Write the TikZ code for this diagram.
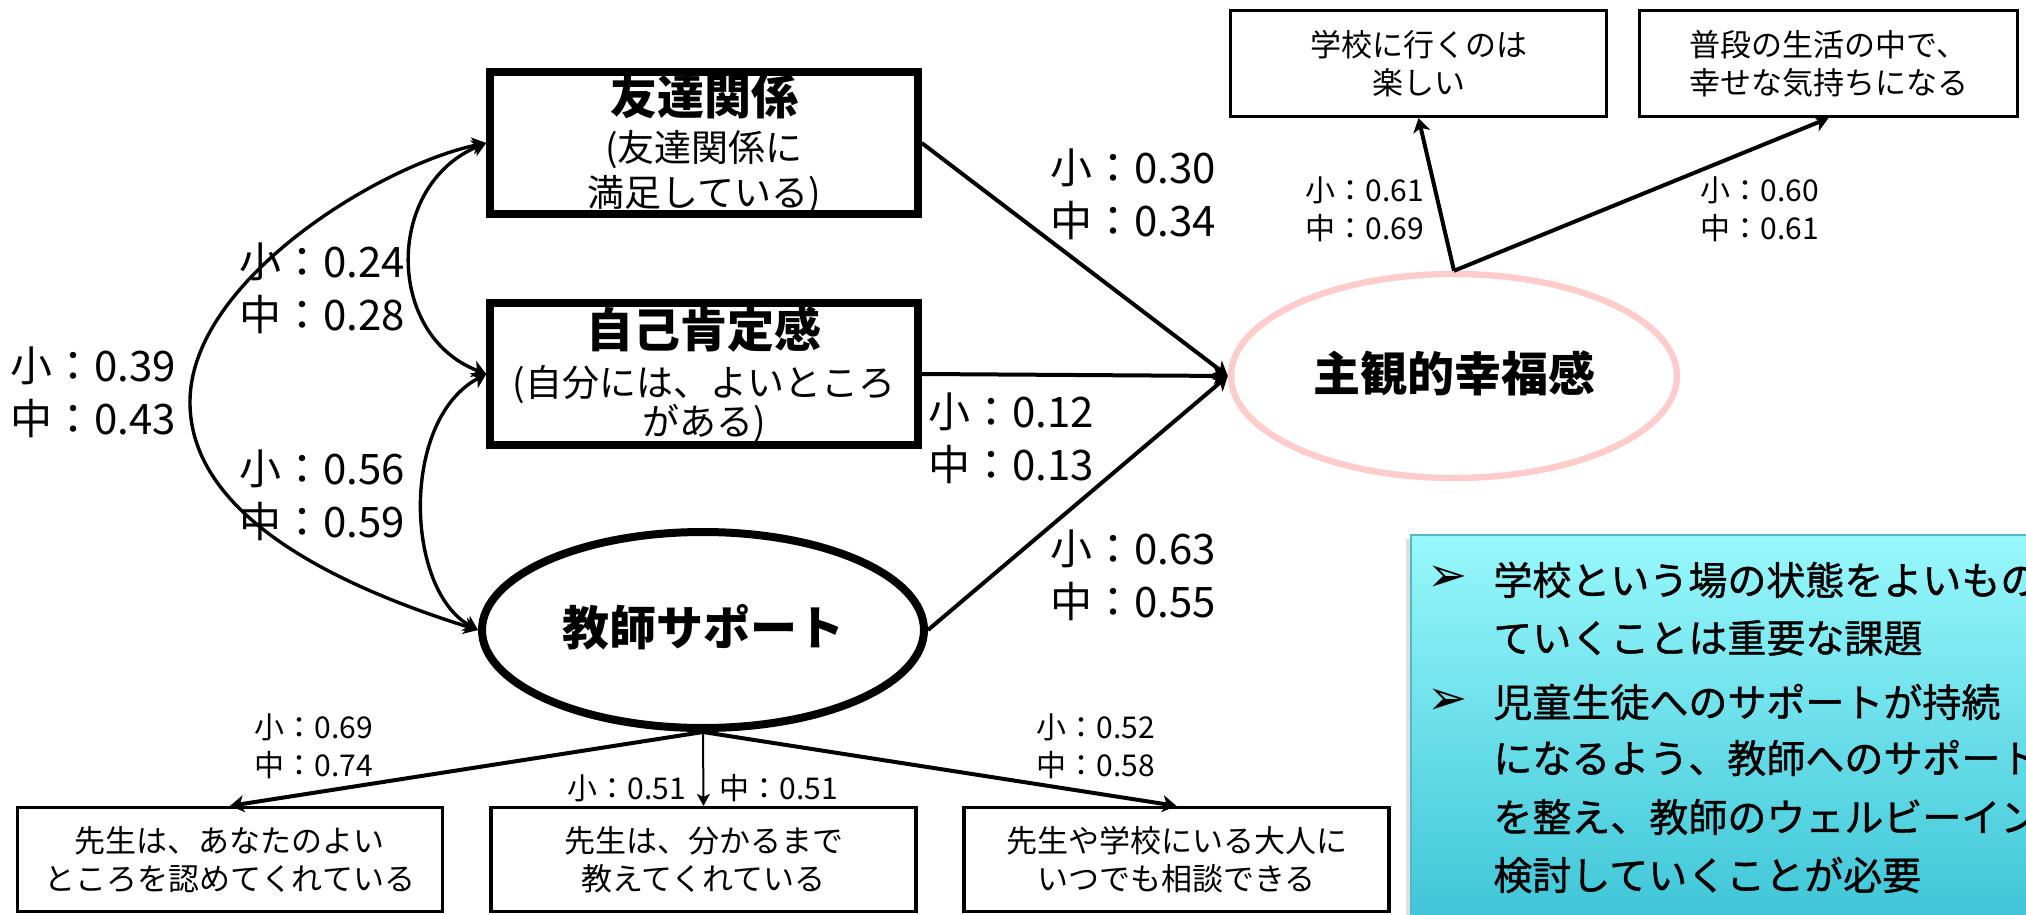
\documentclass[tikz,border=0pt]{standalone}
\usepackage{fontspec}
\setmainfont{Noto Sans CJK JP}
\newfontfamily\symfont{DejaVu Sans}
\newfontfamily\notefont[FakeBold=1]{Noto Sans CJK JP}
\usetikzlibrary{arrows.meta,shapes.geometric}
\definecolor{pinkline}{RGB}{255,204,204}
\definecolor{cyantop}{RGB}{152,248,252}
\definecolor{cyanbot}{RGB}{60,196,214}
\definecolor{cyanedge}{RGB}{80,184,200}
\begin{document}
\begin{tikzpicture}[x=0.5pt,y=-0.5pt,
  tip/.tip={Stealth[length=7pt,width=8.5pt,inset=2pt]},
  arr/.style={line width=2pt,-tip},
  thinarr/.style={line width=1pt,-{Stealth[length=6pt,width=6.5pt,inset=1.5pt]}},
  cov/.style={line width=1.7pt,tip-tip},
  bigbox/.style={draw,line width=3.75pt,minimum width=214pt,minimum height=71pt,inner sep=0pt},
  smallbox/.style={draw,line width=1.6pt,minimum height=53pt,inner sep=0pt,align=center,font=\fontsize{15.5}{19}\selectfont},
  latent/.style={draw,ellipse,inner sep=0pt},
  big/.style={font=\fontsize{21}{26.5}\selectfont,align=left,anchor=west,inner sep=0pt},
  small/.style={font=\fontsize{15}{19}\selectfont,align=left,anchor=west,inner sep=0pt},
  title/.style={font=\bfseries\fontsize{23.5}{28}\selectfont,inner sep=0pt},
  sub/.style={font=\fontsize{18.5}{22.5}\selectfont,inner sep=0pt},
  bulletmark/.style={font=\symfont\fontsize{24}{26}\selectfont,inner sep=0pt},
  noteline/.style={font=\notefont\fontsize{19.5}{24}\selectfont,anchor=west,inner sep=0pt},
]
\useasboundingbox (0,0) rectangle (2026,915);
\clip (0,0) rectangle (2026,915);

% summary box
\fill[black!25,opacity=0.5] (1406,539) rectangle (2040,930);
\path[top color=cyantop,bottom color=cyanbot,draw=cyanedge,line width=1pt] (1411,535) rectangle (2040,930);
\node[bulletmark] (bu1) at (1448,579) {➢};
\node[bulletmark] (bu2) at (1448,702) {➢};
\node[noteline] (n1) at (1493,580) {学校という場の状態をよいもの};
\node[noteline] (n2) at (1493,638) {ていくことは重要な課題};
\node[noteline] (n3) at (1493,702) {児童生徒へのサポートが持続};
\node[noteline] (n4) at (1493,758) {になるよう、教師へのサポート};
\node[noteline] (n5) at (1493,817) {を整え、教師のウェルビーイン};
\node[noteline] (n6) at (1493,875) {検討していくことが必要};

% main nodes
\node[bigbox] (friend) at (704,143) {};
\node[bigbox] (self) at (704,374) {};
\node[latent,line width=4pt,minimum width=221pt,minimum height=98pt] (teacher) at (703,630) {};
\node[latent,draw=pinkline,line width=3.2pt,minimum width=223pt,minimum height=102pt] (swb) at (1454,376) {};

\node[title] (friendT) at (704,97) {友達関係};
\node[sub] (friendS1) at (704,150) {(友達関係に};
\node[sub] (friendS2) at (704,195) {満足している)};
\node[title] (selfT) at (704,330) {自己肯定感};
\node[sub] (selfS1) at (704,385) {(自分には、よいところ};
\node[sub] (selfS2) at (704,423) {がある)};
\node[title] (teacherT) at (703,627) {教師サポート};
\node[title] (swbT) at (1454,373) {主観的幸福感};

% indicator boxes
\node[smallbox,minimum width=188pt] (enjoy) at (1418.5,63.5) {学校に行くのは\\楽しい};
\node[smallbox,minimum width=189pt] (happy) at (1828.5,63.5) {普段の生活の中で、\\幸せな気持ちになる};
\node[smallbox,minimum width=212.5pt,minimum height=52pt] (b1) at (230,859.5) {先生は、あなたのよい\\ところを認めてくれている};
\node[smallbox,minimum width=212.5pt,minimum height=52pt] (b2) at (703.5,859.5) {先生は、分かるまで\\教えてくれている};
\node[smallbox,minimum width=212.5pt,minimum height=52pt] (b3) at (1176.5,859.5) {先生や学校にいる大人に\\いつでも相談できる};

% regression paths
\draw[arr] (friend.east) -- (swb.west);
\draw[arr] (self.east) -- (swb.west);
\draw[arr] (teacher.east) -- (swb.west);
\draw[arr] (swb.north) -- (enjoy.south);
\draw[arr] (swb.north) -- (happy.south);
\draw[arr] (teacher.south) -- (b1.north);
\draw[thinarr] (teacher.south) -- (b2.north);
\draw[arr] (teacher.south) -- (b3.north);

% covariances
\draw[cov] (friend.west) .. controls (385,185) and (385,335) .. (self.west);
\draw[cov] (self.west) .. controls (400,420) and (405,590) .. (teacher.west);
\draw[cov] (friend.west) .. controls (380,165) and (192,280) .. (190,400)
  .. controls (188,520) and (350,590) .. (teacher.west);

% labels
\node[big] (l24) at (239,288) {小：0.24\\中：0.28};
\node[big] (l39) at (10,392) {小：0.39\\中：0.43};
\node[big] (l56) at (239,495) {小：0.56\\中：0.59};
\node[big] (l30) at (1050,194) {小：0.30\\中：0.34};
\node[big] (l12) at (928,438) {小：0.12\\中：0.13};
\node[big] (l63) at (1050,575) {小：0.63\\中：0.55};
\node[small] (l69) at (254,746) {小：0.69\\中：0.74};
\node[small] (l51a) at (567,788) {小：0.51};
\node[small] (l51b) at (719,788) {中：0.51};
\node[small] (l52) at (1036,746) {小：0.52\\中：0.58};
\node[small] (l61) at (1305,209) {小：0.61\\中：0.69};
\node[small] (l60) at (1700,209) {小：0.60\\中：0.61};
\end{tikzpicture}
\end{document}
